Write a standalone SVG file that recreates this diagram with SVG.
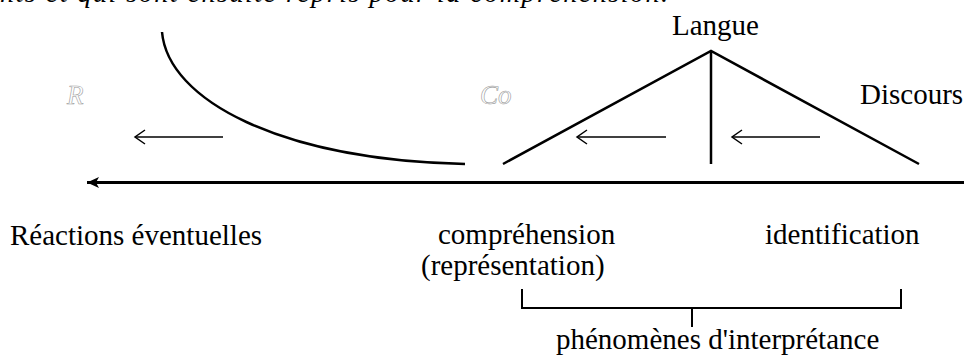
<svg xmlns="http://www.w3.org/2000/svg" width="964" height="356" viewBox="0 0 964 356">
<style>
.t{font-size:29px;fill:#000}
.top{font-size:28px;font-style:italic;fill:#000}
.scr{font-size:27px;font-style:italic;fill:none;stroke:#999;stroke-width:0.6}
.thick{fill:none;stroke:#000;stroke-width:2.5}
.thin{fill:none;stroke:#000;stroke-width:1.5}
</style>
<defs>
<marker id="big" markerWidth="14" markerHeight="12" refX="12" refY="6" orient="auto" markerUnits="userSpaceOnUse">
<path d="M0,0.5 L12,6 L0,11.5 L3,6 Z" fill="#000"/>
</marker>
</defs>
<rect width="964" height="356" fill="#fff"/>
<g font-family="'Liberation Serif', 'Times New Roman', Times, serif">
<text class="top" x="0" y="2" textLength="668" lengthAdjust="spacing">nts et qui sont ensuite repris pour la compréhension.</text>
</g>
<g id="connectors">
<path id="axis" d="M964,182.5 L87,182.5" stroke="#000" stroke-width="3" fill="none" marker-end="url(#big)"/>
<path id="curve" class="thick" d="M162,32 C168,100 280,160 465,164"/>
<g id="arrow1" class="thin"><path d="M223,137 L135,137"/><path d="M145,130 L135,137 L145,144"/></g>
<g id="arrow2" class="thin"><path d="M666,137 L577,137"/><path d="M587,130 L577,137 L587,144"/></g>
<g id="arrow3" class="thin"><path d="M820,137 L732,137"/><path d="M742,130 L732,137 L742,144"/></g>
<g id="bracket" fill="none" stroke="#000" stroke-width="2"><path d="M522,289 L522,308 L901,308 L901,289"/><path d="M692,308 L692,327"/></g>
</g>
<g id="triangle">
<path class="thick" d="M503,164 L711,51 L919,164"/>
<path class="thick" d="M711,51 L711,164"/>
</g>
<g font-family="'Liberation Serif', 'Times New Roman', Times, serif">
<g id="node-langue"><text class="t" x="672" y="35">Langue</text></g>
<g id="node-discours"><text class="t" x="860" y="104">Discours</text></g>
<g id="node-R"><text class="scr" x="67" y="104">R</text></g>
<g id="node-Co"><text class="scr" x="480" y="104">Co</text></g>
<g id="node-reactions"><text class="t" x="10" y="245">Réactions éventuelles</text></g>
<g id="node-comprehension"><text class="t" x="438" y="244">compréhension</text><text class="t" x="421" y="275">(représentation)</text></g>
<g id="node-identification"><text class="t" x="765" y="244">identification</text></g>
<g id="node-phenomenes"><text class="t" x="556" y="349">phénomènes d'interprétance</text></g>
</g>
</svg>
